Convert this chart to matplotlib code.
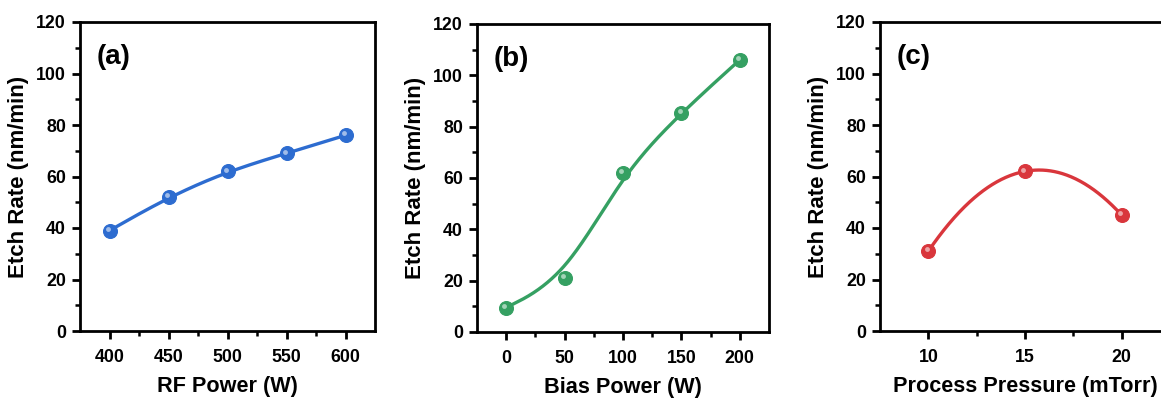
import numpy as np
import matplotlib
matplotlib.use("Agg")
import matplotlib.pyplot as plt
from matplotlib.ticker import MultipleLocator, FixedLocator
import matplotlib.transforms as mtransforms

plt.rcParams['font.family'] = ['Liberation Sans', 'DejaVu Sans']
plt.rcParams['font.weight'] = 'bold'

# ---- data ----
rf_power = [400, 450, 500, 550, 600]
rf_rate = [39, 52, 62, 69, 76]

bias_power = [0, 50, 100, 150, 200]
bias_rate = [9.5, 21, 62, 85.5, 106]

pressure = [10, 15, 20]
pressure_rate = [31, 62, 45]

panel_labels = ['(a)', '(b)', '(c)']
x_labels = ['RF Power (W)', 'Bias Power (W)', 'Process Pressure (mTorr)']
y_label = 'Etch Rate (nm/min)'

colors = ['#2d6cd0', '#35a062', '#d9363c']


def bspline(px, py, n=300):
    """Uniform cubic B-spline using data points as control points (end points repeated)."""
    px = np.asarray(px, float)
    py = np.asarray(py, float)
    P = np.column_stack([px, py])
    P = np.vstack([P[0], P[0], P, P[-1], P[-1]])
    M = np.array([[-1, 3, -3, 1], [3, -6, 3, 0], [-3, 0, 3, 0], [1, 4, 1, 0]]) / 6.0
    out = []
    t = np.linspace(0, 1, n)
    T = np.column_stack([t**3, t**2, t, np.ones_like(t)])
    for i in range(len(P) - 3):
        seg = T @ M @ P[i:i + 4]
        out.append(seg)
    c = np.vstack(out)
    return c[:, 0], c[:, 1]


def quad_curve(px, py, n=300):
    coef = np.polyfit(px, py, 2)
    xs = np.linspace(min(px), max(px), n)
    return xs, np.polyval(coef, xs)


W, H = 1161, 398
fig = plt.figure(figsize=(W / 100, H / 100), dpi=100)

boxes = [(80, 22, 375, 331), (477, 24, 769, 332), (880, 22, 1170, 331)]
xlims = [(375, 625), (-25, 225), (7.5, 22.5)]
xmajor = [[400, 450, 500, 550, 600], [0, 50, 100, 150, 200], [10, 15, 20]]
xminor = [[425, 475, 525, 575], [25, 75, 125, 175], [12.5, 17.5]]

datasets = [(rf_power, rf_rate, 'b'), (bias_power, bias_rate, 'b'), (pressure, pressure_rate, 'q')]

for i, (box, xl, (xd, yd, kind)) in enumerate(zip(boxes, xlims, datasets)):
    l, t, r, b = box
    ax = fig.add_axes([l / W, (H - b) / H, (r - l) / W, (b - t) / H])
    ax.set_xlim(*xl)
    ax.set_ylim(0, 120)
    for s in ax.spines.values():
        s.set_linewidth(2.0)
    ax.xaxis.set_major_locator(FixedLocator(xmajor[i]))
    ax.xaxis.set_minor_locator(FixedLocator(xminor[i]))
    ax.yaxis.set_major_locator(MultipleLocator(20))
    ax.yaxis.set_minor_locator(MultipleLocator(10))
    ax.tick_params(which='major', direction='out', length=6, width=2, labelsize=12.8, pad=4)
    ax.tick_params(which='minor', direction='out', length=3.5, width=1.8)
    ax.tick_params(axis='x', which='major', pad=7)
    for lab in ax.get_xticklabels() + ax.get_yticklabels():
        lab.set_fontweight('bold')

    if kind == 'b':
        cx, cy = bspline(xd, yd)
    else:
        cx, cy = quad_curve(xd, yd)
    ax.plot(cx, cy, color=colors[i], lw=2.4, zorder=2, solid_capstyle='round')
    ax.plot(xd, yd, 'o', color=colors[i], ms=10, mec=colors[i], mew=0.8, zorder=3)
    off = mtransforms.offset_copy(ax.transData, fig=fig, x=-1.3, y=1.3, units='points')
    ax.plot(xd, yd, 'o', color='white', alpha=0.55, ms=3.5, mew=0, transform=off, zorder=4)

    ax.set_xlabel(x_labels[i], fontsize=15.6, fontweight='bold', labelpad=7)
    ax.set_ylabel(y_label, fontsize=16, fontweight='bold', labelpad=5)
    ax.text(0.058, 0.93, panel_labels[i], transform=ax.transAxes, fontsize=20,
            fontweight='bold', va='top', ha='left')

fig.savefig('out.png', dpi=100)
